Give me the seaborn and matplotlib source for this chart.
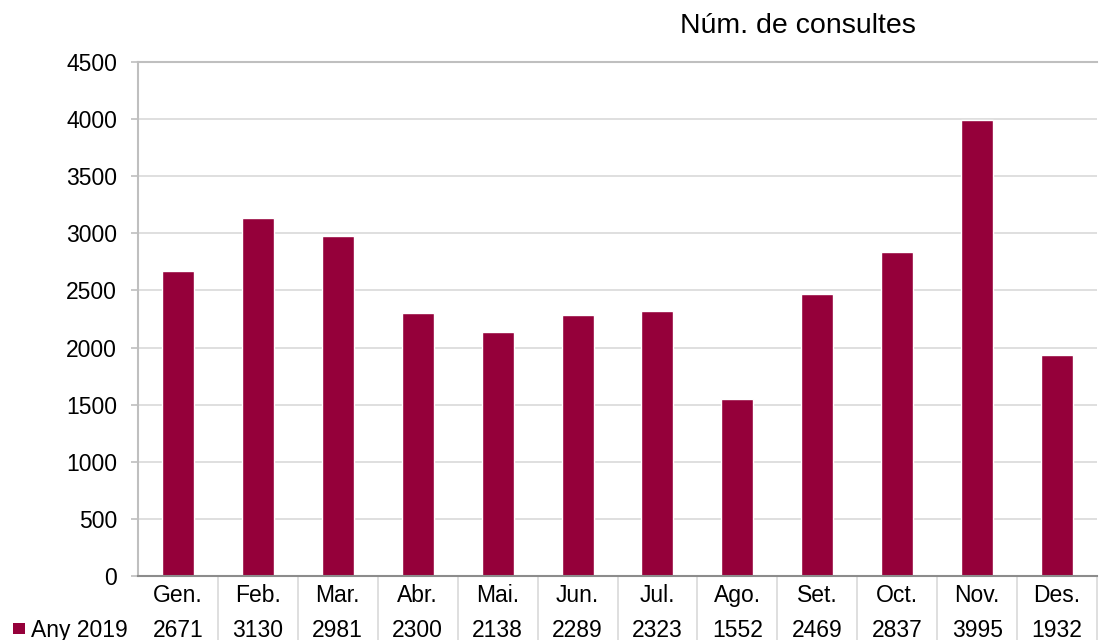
import matplotlib
matplotlib.use('Agg')
import matplotlib.pyplot as plt
from matplotlib.patches import Rectangle
import seaborn as sns

# Data
months = ['Gen.', 'Feb.', 'Mar.', 'Abr.', 'Mai.', 'Jun.', 'Jul.', 'Ago.', 'Set.', 'Oct.', 'Nov.', 'Des.']
consultes = [2671, 3130, 2981, 2300, 2138, 2289, 2323, 1552, 2469, 2837, 3995, 1932]
series_name = 'Any 2019'
title = 'Núm. de consultes'

bar_color = '#95003a'
grid_color = '#d9d9d9'
axis_color = '#bfbfbf'

sns.set_style('white')
plt.rcParams['font.family'] = ['Liberation Sans', 'DejaVu Sans']
plt.rcParams['text.color'] = 'black'
plt.rcParams['ytick.labelcolor'] = 'black'

W, H = 1099, 640
fig = plt.figure(figsize=(W / 100, H / 100), dpi=100)
ax = fig.add_axes([138 / W, 64 / H, 959 / W, 514 / H])

sns.barplot(x=months, y=consultes, color=bar_color, saturation=1, width=0.4, ax=ax)

ax.set_ylim(0, 4500)
ax.set_xlim(-0.5, len(months) - 0.5)
ax.set_yticks(range(0, 4501, 500))
ax.yaxis.grid(True, color=grid_color, linewidth=1.2)
ax.set_axisbelow(True)
ax.spines['right'].set_visible(False)
for s in ['left', 'top']:
    ax.spines[s].set_color(axis_color)
    ax.spines[s].set_linewidth(1.5)
ax.spines['bottom'].set_color('#8c8c8c')
ax.spines['bottom'].set_linewidth(1.5)
ax.tick_params(axis='y', left=True, length=5, width=1.2, color=axis_color,
               labelsize=16.5, labelcolor='black', pad=10)
ax.tick_params(axis='x', bottom=False)
ax.set_xticklabels([])
ax.set_xlabel('')
ax.set_ylabel('')

# data table under the axis: month row, value row, cell borders
trans = ax.get_xaxis_transform()
for k in range(1, len(months) + 1):
    ax.plot([k - 0.5, k - 0.5], [0, -64 / 514], transform=trans, color=grid_color,
            linewidth=1.2, clip_on=False)
for i, (m, v) in enumerate(zip(months, consultes)):
    ax.text(i, -26 / 514, m, transform=trans, ha='center', va='baseline', fontsize=16.5)
    ax.text(i, -61 / 514, str(v), transform=trans, ha='center', va='baseline', fontsize=16.5)

fig.patches.append(Rectangle((13 / W, 1 - 634 / H), 12 / W, 11 / H, transform=fig.transFigure,
                             facecolor=bar_color, edgecolor='none'))
fig.text(31 / W, 1 - 637 / H, series_name, ha='left', va='baseline', fontsize=16.5)

fig.text(798 / W, 1 - 33 / H, title, ha='center', va='baseline', fontsize=20.5)

fig.savefig('out.png', dpi=100)
